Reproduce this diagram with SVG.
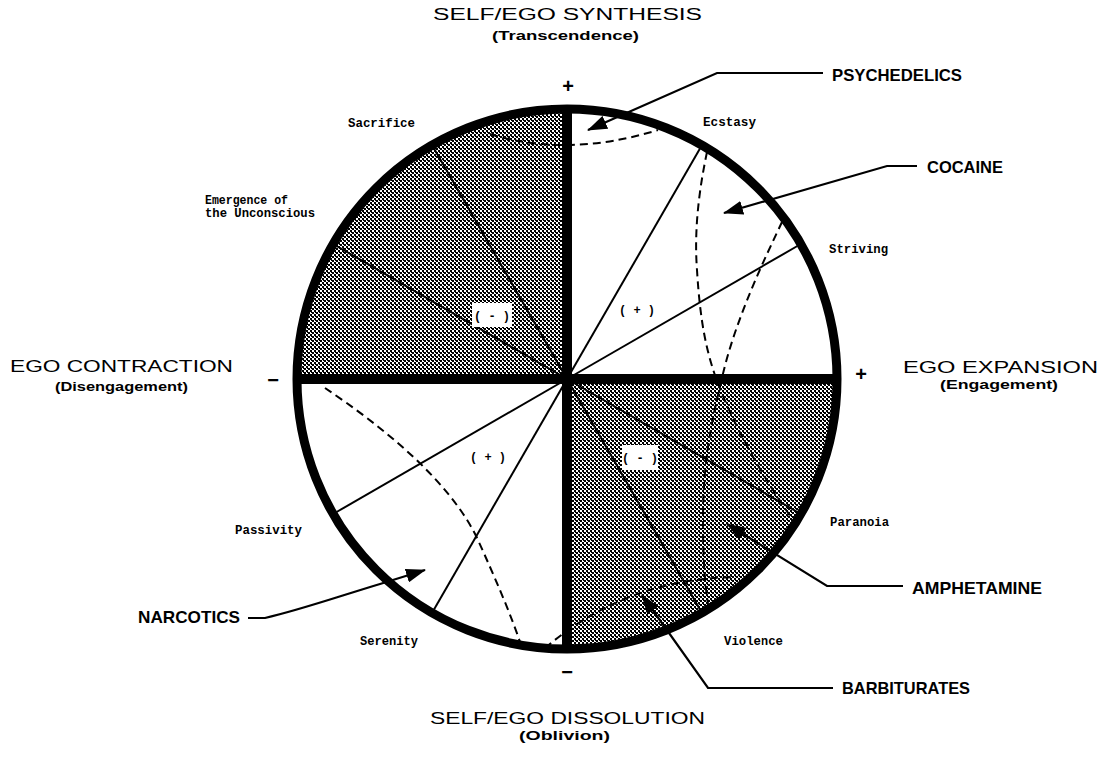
<svg xmlns="http://www.w3.org/2000/svg" width="1103" height="761" viewBox="0 0 1103 761">
<style>
.title{font-family:"Liberation Sans",Arial,sans-serif;font-size:16px;fill:#000}
.sub{font-family:"Liberation Sans",Arial,sans-serif;font-size:12px;font-weight:bold;fill:#000}
.drug{font-family:"Liberation Sans",Arial,sans-serif;font-size:17px;font-weight:bold;fill:#000}
.lbl{font-family:"Liberation Mono","Courier New",monospace;font-size:12px;font-weight:bold;fill:#000}
.sign{font-family:"Liberation Sans",Arial,sans-serif;font-size:20px;font-weight:bold;fill:#000;text-anchor:middle}
.ray{stroke:#000;stroke-width:2;fill:none}
.dash{stroke:#000;stroke-width:2;fill:none;stroke-dasharray:8 5}
.conn{stroke:#000;stroke-width:2.2;fill:none;marker-end:url(#ah)}
.bar{stroke:#000;stroke-width:10}
</style>
<defs>
<pattern id="stip" width="4" height="4" patternUnits="userSpaceOnUse">
<rect width="4" height="4" fill="#fff"/>
<rect x="0" y="0" width="2" height="2" fill="#000"/>
<rect x="2" y="2" width="2" height="2" fill="#000"/>
<rect x="3" y="0" width="1" height="1" fill="#000"/>
</pattern>
<marker id="ah" markerWidth="20" markerHeight="14" refX="19" refY="7" orient="auto" markerUnits="userSpaceOnUse">
<path d="M0,0 L20,7 L0,14 Z" fill="#000"/>
</marker>
</defs>
<rect width="1103" height="761" fill="#fff"/>

<g id="wheel">
<path d="M567,379 L297,379 A270,270 0 0 1 567,109 Z" fill="url(#stip)"/>
<path d="M567,379 L837,379 A270,270 0 0 1 567,649 Z" fill="url(#stip)"/>
<g id="rays">
<line class="ray" x1="567" y1="379" x2="797.4" y2="246"/>
<line class="ray" x1="567" y1="379" x2="700" y2="148.6"/>
<line class="ray" x1="567" y1="379" x2="434" y2="148.6"/>
<line class="ray" x1="567" y1="379" x2="336.6" y2="246"/>
<line class="ray" x1="567" y1="379" x2="336.6" y2="512"/>
<line class="ray" x1="567" y1="379" x2="434" y2="609.4"/>
<line class="ray" x1="567" y1="379" x2="700" y2="609.4"/>
<line class="ray" x1="567" y1="379" x2="797.4" y2="512"/>
</g>
<g id="zones">
<path class="dash" d="M490,134 Q567,158 658,130"/>
<path class="dash" d="M707,152 C699,190 694,230 697,270 C700,320 706,350 716,378 C735,430 765,480 793,520"/>
<path class="dash" d="M782,222 C765,258 735,320 722,378 C712,420 703,460 703,520 C703,560 705,585 708,604"/>
<path class="dash" d="M545,648 C590,610 650,578 738,577"/>
<path class="dash" d="M325,388 C380,425 450,480 478,540 C495,578 510,612 521,645"/>
</g>
<rect x="472" y="303" width="40" height="24" fill="#fff"/>
<rect x="622" y="445" width="36" height="25" fill="#fff"/>
<text class="lbl" x="492" y="320" text-anchor="middle">( - )</text>
<text class="lbl" x="640" y="462" text-anchor="middle">( - )</text>
<text class="lbl" x="637" y="314" text-anchor="middle">( + )</text>
<text class="lbl" x="488" y="461" text-anchor="middle">( + )</text>
<line class="bar" x1="567" y1="109" x2="567" y2="649"/>
<line class="bar" x1="297" y1="379" x2="837" y2="379"/>
<circle cx="567" cy="379" r="270" fill="none" stroke="#000" stroke-width="9"/>
</g>

<g id="connectors">
<path class="conn" d="M823,73 L717,73 L588,130"/>
<path class="conn" d="M917,166 L887,166 L724,213"/>
<path class="conn" d="M903,586 L827,586 L727,524"/>
<path class="conn" d="M833,688 L708,688 L642,595"/>
<path class="conn" d="M248,618 L265,618 C300,610 340,596 380,584 L425,570"/>
</g>

<g id="axis-labels">
<text class="title" x="433" y="20" textLength="269" lengthAdjust="spacingAndGlyphs">SELF/EGO SYNTHESIS</text>
<text class="sub" x="492" y="40" textLength="147" lengthAdjust="spacingAndGlyphs">(Transcendence)</text>
<text class="title" x="10" y="372" font-size="17" textLength="223" lengthAdjust="spacingAndGlyphs">EGO CONTRACTION</text>
<text class="sub" x="55" y="391" textLength="133" lengthAdjust="spacingAndGlyphs">(Disengagement)</text>
<text class="title" x="903" y="373" font-size="17" textLength="195" lengthAdjust="spacingAndGlyphs">EGO EXPANSION</text>
<text class="sub" x="940" y="389" textLength="118" lengthAdjust="spacingAndGlyphs">(Engagement)</text>
<text class="title" x="430" y="724" textLength="275" lengthAdjust="spacingAndGlyphs">SELF/EGO DISSOLUTION</text>
<text class="sub" x="519" y="740" textLength="91" lengthAdjust="spacingAndGlyphs">(Oblivion)</text>
<text class="sign" x="568" y="93">+</text>
<text class="sign" x="861" y="381">+</text>
<text class="sign" x="273" y="387">−</text>
<text class="sign" x="567" y="679">−</text>
</g>

<g id="drug-labels">
<text class="drug" x="832" y="81" textLength="130" lengthAdjust="spacingAndGlyphs">PSYCHEDELICS</text>
<text class="drug" x="927" y="173" textLength="76" lengthAdjust="spacingAndGlyphs">COCAINE</text>
<text class="drug" x="912" y="594" textLength="130" lengthAdjust="spacingAndGlyphs">AMPHETAMINE</text>
<text class="drug" x="842" y="694" textLength="128" lengthAdjust="spacingAndGlyphs">BARBITURATES</text>
<text class="drug" x="138" y="623" textLength="102" lengthAdjust="spacingAndGlyphs">NARCOTICS</text>
</g>

<g id="state-labels">
<text class="lbl" x="348" y="127" textLength="67" lengthAdjust="spacingAndGlyphs">Sacrifice</text>
<text class="lbl" x="703" y="126" textLength="53" lengthAdjust="spacingAndGlyphs">Ecstasy</text>
<text class="lbl" x="829" y="253" textLength="59" lengthAdjust="spacingAndGlyphs">Striving</text>
<text class="lbl" x="205" y="204" textLength="83" lengthAdjust="spacingAndGlyphs">Emergence of</text>
<text class="lbl" x="205" y="217" textLength="110" lengthAdjust="spacingAndGlyphs">the Unconscious</text>
<text class="lbl" x="235" y="534" textLength="67" lengthAdjust="spacingAndGlyphs">Passivity</text>
<text class="lbl" x="830" y="526" textLength="59" lengthAdjust="spacingAndGlyphs">Paranoia</text>
<text class="lbl" x="360" y="645" textLength="58" lengthAdjust="spacingAndGlyphs">Serenity</text>
<text class="lbl" x="724" y="645" textLength="59" lengthAdjust="spacingAndGlyphs">Violence</text>
</g>
</svg>
